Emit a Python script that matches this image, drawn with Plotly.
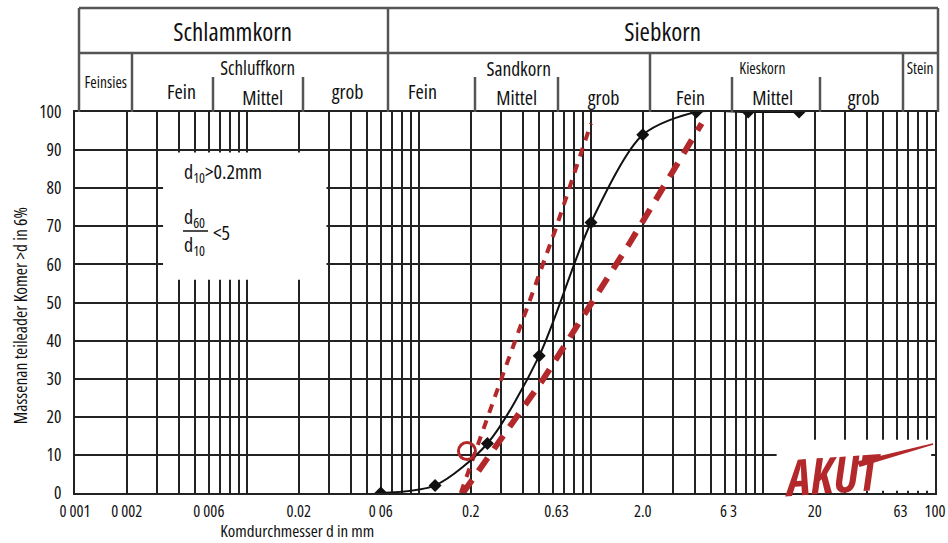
import plotly.graph_objects as go

# ---------------- data ----------------
grain_mm = [0.06, 0.124, 0.25, 0.5, 1.0, 2.0, 4.1, 8.2, 16.2]
passing_pct = [0, 2, 13, 36, 71, 94, 100, 100, 100]

limit_fine_mm = [0.175, 0.28, 0.62, 1.0]
limit_fine_pct = [0, 26, 69, 97]
limit_coarse_mm = [0.18, 0.53, 1.7, 4.4]
limit_coarse_pct = [0, 30, 66, 97]

d10_mm = [0.19]
d10_pct = [11]

x_tick_vals = [0.001, 0.002, 0.006, 0.02, 0.06, 0.2, 0.63, 2.0, 6.3, 20, 63, 100]
x_tick_text = ["0 001", "0 002", "0 006", "0.02", "0 06", "0.2", "0.63", "2.0", "6 3", "20", "63", "100"]
y_tick_vals = [0, 10, 20, 30, 40, 50, 60, 70, 80, 90, 100]

header_top = [("Schlammkorn", 232, 31, 25), ("Siebkorn", 662, 31, 25)]
header_sub = [
    ("Feinsies", 106, 82, 15.5), ("Schluffkorn", 257, 68, 19),
    ("Fein", 181, 92, 20), ("Mittel", 263, 97, 20), ("grob", 347, 92, 20),
    ("Fein", 422, 92, 20), ("Sandkorn", 518, 68, 19.5), ("Mittel", 517, 97, 20),
    ("grob", 603, 97, 20), ("Kieskorn", 762, 68, 15.5), ("Fein", 690, 97, 20),
    ("Mittel", 773, 97, 20), ("grob", 863, 97, 20), ("Stein", 920, 68, 15.5),
]

FONT = "Open Sans"
W, H = 948, 543
L, R, T, B = 75, 935, 112, 493


def px(x):
    return (x - L) / (R - L)


def py(y):
    return (B - y) / (B - T)


grid_vals = [m * 10 ** e for e in range(-3, 2) for m in range(1, 10)] + [100]

fig = go.Figure()

RED = "#b3292b"
fig.add_trace(go.Scatter(x=limit_fine_mm, y=limit_fine_pct, mode="lines",
                         line=dict(color=RED, width=4, dash="9px,8px"),
                         hoverinfo="skip", showlegend=False))
fig.add_trace(go.Scatter(x=limit_coarse_mm, y=limit_coarse_pct, mode="lines",
                         line=dict(color=RED, width=6, dash="16px,11px"),
                         hoverinfo="skip", showlegend=False))
fig.add_trace(go.Scatter(x=grain_mm, y=passing_pct, mode="lines+markers",
                         line=dict(color="#111", width=2, shape="spline", smoothing=0.8),
                         marker=dict(symbol="diamond", size=10, color="#111"),
                         showlegend=False))
fig.add_trace(go.Scatter(x=d10_mm, y=d10_pct, mode="markers",
                         marker=dict(symbol="circle-open", size=17, color=RED,
                                     line=dict(width=3, color=RED)),
                         showlegend=False))

shapes = []
shapes.append(dict(type="rect", xref="x", yref="y", x0=0.00325, x1=0.029, y0=56, y1=89.4,
                   fillcolor="white", line_width=0, layer="between"))
shapes.append(dict(type="rect", xref="x", yref="y", x0=12, x1=95, y0=0.6, y1=14,
                   fillcolor="white", line_width=0, layer="between"))

HC = "#555"
HW = 2.5


def hline(x0, x1, y):
    shapes.append(dict(type="line", xref="paper", yref="paper", x0=px(x0), x1=px(x1),
                       y0=py(y), y1=py(y), line=dict(color=HC, width=HW)))


def vline(x, y0, y1):
    shapes.append(dict(type="line", xref="paper", yref="paper", x0=px(x), x1=px(x),
                       y0=py(y0), y1=py(y1), line=dict(color=HC, width=HW)))


hline(79, 938, 8)
hline(79, 938, 53)
vline(79, 8, 112)
vline(938, 8, 112)
vline(388, 8, 112)
for xv in [132, 650, 903]:
    vline(xv, 53, 112)
for xv in [213, 303, 475, 558, 732, 820]:
    vline(xv, 77, 112)

shapes.append(dict(type="line", xref="paper", yref="paper", x0=px(183), x1=px(208),
                   y0=py(231), y1=py(231), line=dict(color="#111", width=1.5)))
shapes.append(dict(type="path", xref="paper", yref="paper",
                   path=f"M {px(858)} {py(462)} Q {px(900)} {py(452)} {px(933)} {py(444)} L {px(860)} {py(466)} Z",
                   fillcolor=RED, line=dict(color=RED, width=1.5)))

annotations = []
for text, cx, cy, size in header_top + header_sub:
    annotations.append(dict(text=text, x=px(cx), y=py(cy), xref="paper", yref="paper",
                            showarrow=False, xanchor="center", yanchor="middle",
                            font=dict(family=FONT, size=size, color="#111")))


def left_text(text, x, y, size=20):
    annotations.append(dict(text=text, x=px(x), y=py(y), xref="paper", yref="paper",
                            showarrow=False, xanchor="left", yanchor="middle", align="left",
                            font=dict(family=FONT, size=size, color="#111")))


left_text("d<sub>10</sub>&gt;0.2mm", 182, 172)
left_text("d<sub>60</sub>", 182, 217)
left_text("d<sub>10</sub>", 182, 245)
left_text("&lt;5", 211, 232)

annotations.append(dict(text="<b><i>AKUT</i></b>", x=px(833), y=py(474), xref="paper", yref="paper",
                        showarrow=False, xanchor="center", yanchor="middle", textangle=-4,
                        font=dict(family=FONT, size=50, color=RED)))

annotations.append(dict(text="Komdurchmesser d in mm", x=px(297), y=py(530), xref="paper", yref="paper",
                        showarrow=False, xanchor="center", yanchor="middle",
                        font=dict(family=FONT, size=17, color="#111")))
annotations.append(dict(text="Massenan teileader Komer >d in 6%", x=px(20), y=py(316),
                        xref="paper", yref="paper", textangle=-90,
                        showarrow=False, xanchor="center", yanchor="middle",
                        font=dict(family=FONT, size=17.5, color="#111")))

GC = "#222"
fig.update_layout(
    width=W, height=H, autosize=False,
    margin=dict(l=L, r=W - R, t=T, b=H - B, pad=0, autoexpand=False),
    paper_bgcolor="white", plot_bgcolor="white",
    shapes=shapes, annotations=annotations,
    showlegend=False,
    font=dict(family=FONT),
    xaxis=dict(type="log", range=[-3, 2], tickmode="array", tickvals=x_tick_vals, ticktext=x_tick_text,
               showgrid=False, zeroline=False, ticks="", ticklabelstandoff=2,
               automargin=False, ticklabeloverflow="allow",
               tickfont=dict(family=FONT, size=16.5, color="#111"),
               showline=True, linecolor=GC, linewidth=2, mirror=True,
               minor=dict(tickmode="array", tickvals=grid_vals, showgrid=True,
                          gridcolor=GC, gridwidth=2.4, ticks="")),
    yaxis=dict(range=[0, 100], tickmode="array", tickvals=y_tick_vals,
               showgrid=True, gridcolor=GC, gridwidth=2.4, zeroline=False, ticks="",
               ticklabelstandoff=8, automargin=False, ticklabeloverflow="allow",
               tickfont=dict(family=FONT, size=17.5, color="#111"),
               showline=True, linecolor=GC, linewidth=2, mirror=True),
)

post = ("document.documentElement.style.overflow='hidden';"
        "document.body.style.margin='0';document.body.style.padding='0';"
        "document.body.style.overflow='hidden';"
        "var st=document.createElement('style');"
        "st.textContent='svg text{font-stretch:semi-condensed;}';"
        "document.head.appendChild(st);")
fig.write_html("out.html", post_script=post,
               config={"displayModeBar": False, "responsive": False})
